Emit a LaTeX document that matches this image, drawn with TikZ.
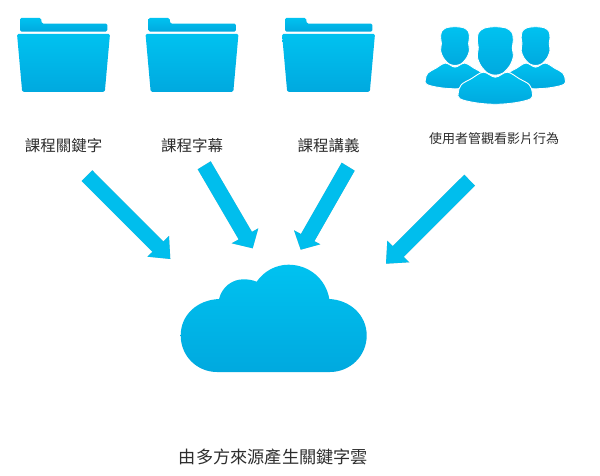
\documentclass[tikz,border=0pt]{standalone}
\usepackage{fontspec}
\setmainfont{Noto Sans CJK TC}
\usetikzlibrary{calc}
\definecolor{skytop}{HTML}{00C2F0}
\definecolor{skybot}{HTML}{00A9DF}
\definecolor{txt}{HTML}{2E2E2E}
\newcommand{\blockarrow}[6]{% name, tail a, tail b, barb a, tip, barb b
  \coordinate (#1ta) at (#2);
  \coordinate (#1tb) at (#3);
  \coordinate (#1ba) at (#4);
  \coordinate (#1tip) at (#5);
  \coordinate (#1bb) at (#6);
  \coordinate (#1tm) at ($(#1ta)!.5!(#1tb)$);
  \coordinate (#1na) at (intersection cs:first line={(#1ta)--($(#1ta)+(#1tip)-(#1tm)$)},second line={(#1ba)--(#1bb)});
  \coordinate (#1nb) at (intersection cs:first line={(#1tb)--($(#1tb)+(#1tip)-(#1tm)$)},second line={(#1ba)--(#1bb)});
  \fill[black,opacity=.25,xshift=-1.1pt,yshift=-.7pt] (#1ta)--(#1na)--(#1ba)--(#1tip)--(#1bb)--(#1nb)--(#1tb)--cycle;
  \fill[arrowfill] (#1ta)--(#1na)--(#1ba)--(#1tip)--(#1bb)--(#1nb)--(#1tb)--cycle;
}
\tikzset{
  x=1pt,y=-1pt,
  sky/.style={top color=skytop,bottom color=skybot,draw=none},
  arrowfill/.style={fill=skytop!85!skybot},
  lab/.style={text=txt,inner sep=0pt,anchor=center},
  big/.style={lab,font=\fontsize{15.5}{16}\selectfont},
  small/.style={lab,font=\fontsize{13}{14}\selectfont},
  large/.style={lab,font=\fontsize{17.2}{18}\selectfont},
  folder/.pic={
    \path[sky,rounded corners=1.4pt] (20,31.6)--(20,18)--(41,18)--(41.8,23.6)--(107.3,23.6)--(107.3,31.6)--cycle;
    \path[sky,rounded corners=1.6pt] (17,33.8)--(110,33.8)--(104.8,92)--(22.2,92)--cycle;
  },
  person/.pic={
    \path[sky,draw=white,line width=.9pt] plot[smooth cycle,tension=.6] coordinates
      {(-12,45.5) (0,50.5) (12,45.5) (24,52) (34,58) (37,66) (35.5,72) (20,76) (0,77.6) (-20,76) (-35.5,72) (-37,66) (-34,58) (-24,52)};
    \path[sky,draw=white,line width=.9pt] plot[smooth cycle,tension=.5] coordinates
      {(0,0) (11,1.4) (16.8,6) (18,14) (17,21) (18,30) (14.5,39) (7.5,46.5) (0,48.5) (-7.5,46.5) (-14.5,39) (-18,30) (-17,21) (-18,14) (-16.8,6) (-11,1.4)};
  }
}
\begin{document}
\begin{tikzpicture}
\useasboundingbox (0,0) rectangle (600,476);
\fill[white] (0,0) rectangle (600,476);

\pic (f1) at (0,0) {folder};
\pic (f2) at (128.5,0) {folder};
\pic (f3) at (265,0) {folder};

\pic[scale=.8] (p1) at (455,26.7) {person};
\pic[scale=.8] (p3) at (535.6,26.7) {person};
\pic (p2) at (495.3,26.7) {person};

\node[big] (l1) at (63.5,146) {課程關鍵字};
\node[big] (l2) at (192,146) {課程字幕};
\node[big] (l3) at (328.5,146) {課程講義};
\node[small] (l4) at (494,138.5) {使用者管觀看影片行為};

\blockarrow{a}{81.7,181}{92.3,170.3}{147.3,256.7}{170.3,259}{169,236}
\blockarrow{b}{197.7,169.3}{210.7,161.3}{231.7,243.3}{252.7,248.3}{258.3,228.3}
\blockarrow{c}{341.7,162.7}{354.7,170.7}{294,230.3}{300.7,249.7}{320.3,244.3}
\blockarrow{d}{464.3,174.7}{475,185.7}{387.3,240.7}{386,263.7}{409.3,262.3}

\path[sky] (217,372)
  .. controls (197,372) and (180.7,356) .. (180.7,335.5)
  .. controls (180.7,315) and (197,300) .. (219,299)
  .. controls (222,287) and (232,279.3) .. (243.5,279.3)
  .. controls (248,279.3) and (252.5,280) .. (256.7,281.7)
  .. controls (264,271) and (276,264.7) .. (288.5,264.7)
  .. controls (309,264.7) and (326,279) .. (329.3,299)
  .. controls (350,300) and (366.7,315) .. (366.7,335.5)
  .. controls (366.7,356) and (350,372) .. (330,372)
  -- cycle;

\node[large] (l5) at (273.5,457) {由多方來源產生關鍵字雲};
\end{tikzpicture}
\end{document}
